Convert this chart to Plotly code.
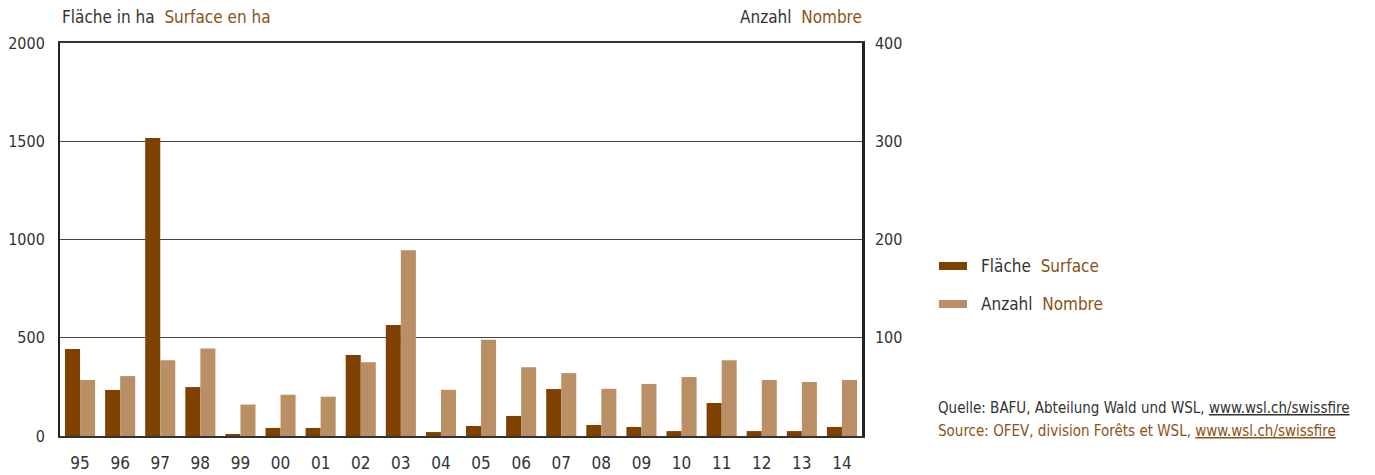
import plotly.graph_objects as go

years = ['95', '96', '97', '98', '99', '00', '01', '02', '03', '04',
         '05', '06', '07', '08', '09', '10', '11', '12', '13', '14']
flaeche = [443, 234, 1517, 249, 10, 41, 41, 412, 565, 20,
           51, 102, 239, 56, 46, 25, 168, 25, 25, 46]
anzahl = [57, 61, 77, 89, 32, 42, 40, 75, 189, 47,
          98, 70, 64, 48, 53, 60, 77, 57, 55, 57]

dark = '#7f4100'
light = '#bb8f66'
fr = '#8a5215'
txt = '#333333'
font = 'Liberation Sans Narrow, DejaVu Sans Condensed, Arial Narrow, sans-serif'

fig = go.Figure()
fig.add_trace(go.Bar(x=years, y=flaeche, marker_color=dark, offsetgroup=0,
                     marker_line_width=0, name='Fläche', yaxis='y'))
fig.add_trace(go.Bar(x=years, y=anzahl, marker_color=light, offsetgroup=1,
                     marker_line_width=0, name='Anzahl', yaxis='y2'))

# page body has an 8px margin, so the figure is a bit smaller and shifted
fig.update_layout(
    width=1367, height=467,
    margin=dict(l=52, r=513, t=35, b=39),
    paper_bgcolor='white', plot_bgcolor='white',
    font=dict(family=font, size=17, color=txt),
    showlegend=False,
    barmode='group', bargap=0.25, bargroupgap=0,
    xaxis=dict(showline=True, linecolor='#333', linewidth=2, mirror=True,
               showgrid=False, ticks='', ticklabelstandoff=11, automargin=False),
    yaxis=dict(range=[0, 2000], tickvals=[0, 500, 1000, 1500, 2000],
               showgrid=True, gridcolor='#444', gridwidth=1,
               showline=True, linecolor='#222', linewidth=2,
               zeroline=False, ticks='', ticklabelstandoff=10, automargin=False,
               tickfont=dict(size=16)),
    yaxis2=dict(range=[0, 400], tickvals=[100, 200, 300, 400], overlaying='y',
                side='right', showgrid=False, zeroline=False,
                showline=True, linecolor='#222', linewidth=2.5,
                ticks='', ticklabelstandoff=7, automargin=False,
                tickfont=dict(size=16)),
)

def px(x):
    return (x - 60) / 802

def py(y):
    return (436 - y) / 393

ann = [
    dict(x=0, y=py(17), xanchor='left',
         text="Fläche in ha  <span style='color:%s'>Surface en ha</span>" % fr),
    dict(x=px(864), y=py(17), xanchor='right',
         text="Anzahl  <span style='color:%s'>Nombre</span>" % fr),
    dict(x=px(979), y=py(266), xanchor='left',
         text="Fläche  <span style='color:%s'>Surface</span>" % fr),
    dict(x=px(979), y=py(304), xanchor='left',
         text="Anzahl  <span style='color:%s'>Nombre</span>" % fr),
    dict(x=px(936), y=py(408), xanchor='left', font=dict(size=15),
         text="Quelle: BAFU, Abteilung Wald und WSL, <u>www.wsl.ch/swissfire</u>"),
    dict(x=px(936), y=py(431), xanchor='left', font=dict(size=15, color=fr),
         text="Source: OFEV, division Forêts et WSL, <u>www.wsl.ch/swissfire</u>"),
]
for a in ann:
    a.update(xref='paper', yref='paper', yanchor='middle', showarrow=False)
    fig.add_annotation(**a)

fig.add_shape(type='rect', xref='paper', yref='paper', x0=px(939), x1=px(967),
              y0=py(270), y1=py(262), fillcolor=dark, line_width=0)
fig.add_shape(type='rect', xref='paper', yref='paper', x0=px(939), x1=px(967),
              y0=py(308), y1=py(300), fillcolor=light, line_width=0)

fig.write_html('out.html')
